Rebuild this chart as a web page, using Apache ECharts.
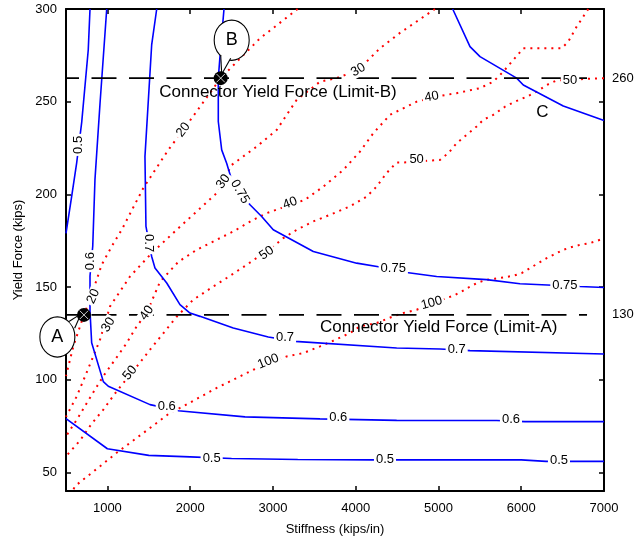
<!DOCTYPE html>
<html>
<head>
<meta charset="utf-8">
<script src="https://cdn.jsdelivr.net/npm/echarts@6.0.0/dist/echarts.min.js"></script>
<style>
html,body{margin:0;padding:0;background:#fff;}
#chart{width:635px;height:541px;}
</style>
</head>
<body>
<div id="chart"></div>
<script>
// axis ticks
var xTicks = [1000, 2000, 3000, 4000, 5000, 6000, 7000];
var yTicks = [50, 100, 150, 200, 250, 300];

// blue contours (solid)
var blue05a = [[790,300],[769,278],[690,239],[629,217],[569,199],[500,179]];
var blue05b = [[500,79],[1000,62.8],[1500,59.2],[2000,58.4],[2500,57.5],[3300,57],[4200,56.8],[5000,56.8],[6000,56.8],[6300,56],[7000,56]];
var blue06 = [[992,300],[911,249],[850,208],[823,172],[790,156],[790,137],[810,120],[951,99],[1011,96.5],[1515,86.6],[1857,83.3],[2663,80],[3568,78.9],[4495,78.1],[5703,78],[6045,77.4],[7000,77.4]];
var blue07 = [[1596,300],[1535,280.6],[1454,220.4],[1466,182.7],[1535,166.5],[1575,160.3],[1717,152.2],[1877,140.5],[1998,136],[2119,134.2],[2521,127.9],[2944,123.1],[3267,120.7],[4495,117.1],[5019,116.6],[5381,115.7],[7000,113.9]];
var blue075 = [[2409,300],[2373,281.5],[2340,262.7],[2340,239.3],[2381,224],[2441,216.8],[2502,207.8],[2723,194.4],[2864,188.1],[3004,180.9],[3488,169.2],[4012,162.9],[4293,160.8],[4616,157.9],[4978,155.7],[5582,154],[5985,151.8],[6710,150.3],[7000,149.8]];
var blueC = [[5172,300],[5381,279.7],[5502,274.3],[5945,262.7],[6025,259],[6508,247.7],[7000,239.8]];

// red contours (dotted)
var red20 = [[3299,300],[2844,284.2],[2369,262.7],[1917,234.8],[1736,224],[1434,203.4],[1173,180.9],[1052,171.9],[931,162],[810,145.9],[717,135.1],[588,118],[500,102]];
var red30 = [[4958,300],[4535,287.1],[4293,278.8],[4031,267.1],[3770,262.7],[3569,260.8],[3287,251],[3046,234.8],[2804,225.8],[2502,215.9],[2321,200.7],[2079,190.8],[1837,180.9],[1535,168.3],[1273,155.7],[1032,139.6],[911,121.6],[730,101.8],[629,91],[500,80]];
var red40 = [[6810,300],[6670,290.5],[6568,282.4],[6489,278.8],[6025,278.8],[5904,272.5],[5783,266.2],[5662,260.8],[5501,257.3],[5220,254.6],[5018,253.1],[4737,250],[4414,242.9],[4213,233],[4052,223.1],[3850,213.2],[3609,204.2],[3387,197.1],[2925,189.9],[2763,186.3],[2521,180],[2320,175.5],[2079,170.1],[1857,163.6],[1636,152.9],[1475,136],[1354,128.8],[1233,119.8],[1092,110.8],[951,102],[790,90.3],[645,79.5],[500,69.5]];
var red50 = [[7000,262.7],[6782,262.3],[6589,261.7],[6428,261.5],[6307,259],[6187,255.4],[6066,252.7],[5924,250],[5804,247.3],[5662,242.9],[5541,240.2],[5461,236.6],[5340,232.1],[5220,227.6],[5118,222.2],[5018,218.6],[4897,218.2],[4575,217.2],[4494,217.2],[4373,211.5],[4253,204.2],[4132,198.8],[3930,193.5],[3689,189],[3488,185.4],[3287,180.9],[3125,176.4],[3004,171.9],[2683,162],[2441,154.9],[2280,150.3],[2038,143.2],[1837,134],[1515,116.2],[1373,108.1],[1112,93.8],[951,83.9],[810,76.3],[669,67.2],[500,58.7]];
var red100 = [[6951,175.5],[6831,173.7],[6710,172.8],[6610,171.6],[6508,170.1],[6387,167.4],[6307,165.6],[6206,162.9],[6105,160.2],[6005,157.5],[5904,156.1],[5783,155.2],[5682,154.5],[5582,153.9],[5481,152.5],[5381,150.3],[5280,147.6],[5179,145.3],[5098,144.1],[4737,137.8],[4575,136],[4454,134.2],[4253,130.6],[4052,128.8],[3931,125.2],[3710,120.7],[3569,118],[3367,114.4],[3166,112.6],[2763,105.4],[2321,95.6],[1918,85.7],[1756,82.1],[1434,71.3],[1112,60.6],[911,53.3],[709,46.2],[609,42.6],[580,40]];

// contour labels
var blueLabels = [
	[645,226.7,'0.5'], [2260,57.8,'0.5'], [4354,56.9,'0.5'], [6456,56.4,'0.5'],
	[796,164,'0.6'], [1717,85.7,'0.6'], [3790,79.6,'0.6'], [5876,78.5,'0.6'],
	[1494,173.7,'0.7'], [3146,123.1,'0.7'], [5220,116.2,'0.7'],
	[2602,201.4,'0.75'], [4454,160.3,'0.75'], [6528,150.7,'0.75']
];
var blueLabelAngles = [90,0,0,0, 90,0,0,0, -90,0,0, -60,0,0];
var redLabels = [
	[830,145,'20'], [1917,234.8,'20'],
	[1011,129.7,'30'], [2400,206.9,'30'], [4031,267.1,'30'],
	[1475,136,'40'], [3206,195.3,'40'], [4918,252.7,'40'],
	[1273,103.7,'50'], [2925,168.3,'50'], [4736,218.7,'50'], [6589,261.7,'50'],
	[2944,109.9,'100'], [4918,141.4,'100']
];
var redLabelAngles = [65,52, 60,55,30, 55,20,10, 50,35,0,0, 22,15];

// connector limits
var limitLevels = [262.7, 135];
var limitTexts = ['260', '130'];
var limitSpan = [355, 6795];
var notes = [[3061,255.3,'Connector Yield Force (Limit-B)'], [5003,128.2,'Connector Yield Force (Limit-A)'], [6255,244.1,'C']];
var callouts = [[717,135], [2369,262.7]];
var calloutLetters = ['A', 'B'];

var FONT = "'Liberation Sans', Arial, sans-serif";
// bubble offsets from the marker, in pixels
var calloutStyle = [
	{dx: -26.6, dy: 22, tail: [[-15,6.7],[-3,-1],[-9.3,13.3]]},
	{dx: 11, dy: -38, tail: [[0,-23],[1,-4],[10,-20]]}
];

function curve(data, color, dash, width){
	return {
		type: 'line',
		data: data,
		showSymbol: false,
		symbol: 'none',
		silent: true,
		lineStyle: { color: color, width: width, type: dash, cap: 'butt' },
		z: 2
	};
}

function labelSeries(list, angles){
	return {
		type: 'scatter',
		symbolSize: 1,
		silent: true,
		z: 5,
		itemStyle: { color: 'rgba(0,0,0,0)' },
		data: list.map(function(d, i){
			return { value: [d[0], d[1]], name: d[2], label: { rotate: angles[i] } };
		}),
		label: {
			show: true,
			position: 'inside',
			formatter: '{b}',
			color: '#000',
			opacity: 1,
			textBorderWidth: 0,
			fontSize: 13,
			fontFamily: FONT,
			backgroundColor: '#fff',
			padding: [0, 2]
		}
	};
}

function renderCallout(params, api){
	var p = api.coord([api.value(0), api.value(1)]);
	var st = calloutStyle[params.dataIndex];
	var cx = p[0] + st.dx, cy = p[1] + st.dy;
	var t = st.tail.map(function(q){ return [p[0] + q[0], p[1] + q[1]]; });
	var cross = 4.2;
	return {
		type: 'group',
		children: [
			{ type: 'circle', shape: { cx: 0, cy: 0, r: 17.5 }, x: cx, y: cy, scaleY: 1.15,
				style: { fill: '#fff', stroke: '#000', lineWidth: 1.1 } },
			{ type: 'polygon', shape: { points: t }, style: { fill: '#fff', stroke: null } },
			{ type: 'polyline', shape: { points: [t[0], t[1]] }, style: { stroke: '#000', lineWidth: 1.1, fill: null } },
			{ type: 'polyline', shape: { points: [t[2], t[1]] }, style: { stroke: '#000', lineWidth: 1.1, fill: null } },
			{ type: 'text', style: { text: calloutLetters[params.dataIndex], x: cx, y: cy, align: 'center', verticalAlign: 'middle',
				font: '18px ' + FONT, fill: '#000' } },
			{ type: 'circle', shape: { cx: p[0], cy: p[1], r: 7 }, style: { fill: '#000' } },
			{ type: 'line', shape: { x1: p[0] - cross, y1: p[1] - cross, x2: p[0] + cross, y2: p[1] + cross }, style: { stroke: '#fff', lineWidth: 0.8 } },
			{ type: 'line', shape: { x1: p[0] - cross, y1: p[1] + cross, x2: p[0] + cross, y2: p[1] - cross }, style: { stroke: '#fff', lineWidth: 0.8 } }
		]
	};
}

var axisLineStyle = { color: '#000', width: 2 };
var tickStyle = { color: '#000', width: 1.5 };
var labelStyle = { color: '#000', fontSize: 13, fontFamily: FONT, formatter: function(v){ return String(v); } };

var series = [];
[red20, red30, red40, red50, red100].forEach(function(d){
	series.push(curve(d, '#ff0000', [2, 5], 2));
});
[blue05a, blue05b, blue06, blue07, blue075, blueC].forEach(function(d){
	series.push(curve(d, '#0000ff', 'solid', 1.6));
});
limitLevels.forEach(function(v, i){
	series.push({
		type: 'line',
		data: [[limitSpan[0], v], [limitSpan[1], v]],
		showSymbol: false,
		symbol: 'none',
		silent: true,
		clip: false,
		z: 4,
		lineStyle: { color: '#000', width: 1.6, type: [25, 12.5], cap: 'butt' },
		endLabel: { show: true, formatter: limitTexts[i], distance: 25, color: '#000', fontSize: 13, fontFamily: FONT }
	});
});
series.push(labelSeries(blueLabels, blueLabelAngles));
series.push(labelSeries(redLabels, redLabelAngles));
series.push({
	type: 'scatter',
	symbolSize: 1,
	silent: true,
	z: 6,
	itemStyle: { color: 'rgba(0,0,0,0)' },
	data: notes.map(function(d){ return { value: [d[0], d[1]], name: d[2] }; }),
	label: { show: true, position: 'inside', formatter: '{b}', color: '#000', opacity: 1, textBorderWidth: 0,
		fontSize: 17, fontFamily: FONT }
});
series.push({
	type: 'custom',
	coordinateSystem: 'cartesian2d',
	renderItem: renderCallout,
	clip: false,
	silent: true,
	z: 8,
	data: callouts
});

var chart = echarts.init(document.getElementById('chart'));
chart.setOption({
	animation: false,
	backgroundColor: '#fff',
	grid: { left: 66, right: 31, top: 9, bottom: 50, outerBoundsMode: 'none', containLabel: false },
	xAxis: [{
		type: 'value', min: 500, max: 7000, position: 'bottom',
		axisLine: { onZero: false, lineStyle: axisLineStyle },
		axisTick: { inside: true, length: 5, lineStyle: tickStyle, customValues: xTicks.slice(0, 6) },
		axisLabel: Object.assign({ customValues: xTicks, margin: 11 }, labelStyle),
		splitLine: { show: false },
		name: 'Stiffness (kips/in)', nameLocation: 'middle', nameGap: 32, nameMoveOverlap: false,
		nameTextStyle: { color: '#000', fontSize: 13, fontFamily: FONT }
	}, {
		type: 'value', min: 500, max: 7000, position: 'top',
		axisLine: { onZero: false, lineStyle: axisLineStyle },
		axisTick: { inside: true, length: 5, lineStyle: tickStyle, customValues: xTicks.slice(0, 6) },
		axisLabel: { show: false },
		splitLine: { show: false }
	}],
	yAxis: [{
		type: 'value', min: 40, max: 300, position: 'left',
		axisLine: { onZero: false, lineStyle: axisLineStyle },
		axisTick: { inside: true, length: 5, lineStyle: tickStyle, customValues: yTicks.slice(0, 5) },
		axisLabel: Object.assign({ customValues: yTicks, margin: 9 }, labelStyle),
		splitLine: { show: false },
		name: 'Yield Force (kips)', nameLocation: 'middle', nameGap: 41, nameMoveOverlap: false,
		nameTextStyle: { color: '#000', fontSize: 13, fontFamily: FONT }
	}, {
		type: 'value', min: 40, max: 300, position: 'right',
		axisLine: { onZero: false, lineStyle: axisLineStyle },
		axisTick: { inside: true, length: 5, lineStyle: tickStyle, customValues: yTicks.slice(0, 5) },
		axisLabel: { show: false },
		splitLine: { show: false }
	}],
	series: series
});
</script>
</body>
</html>
